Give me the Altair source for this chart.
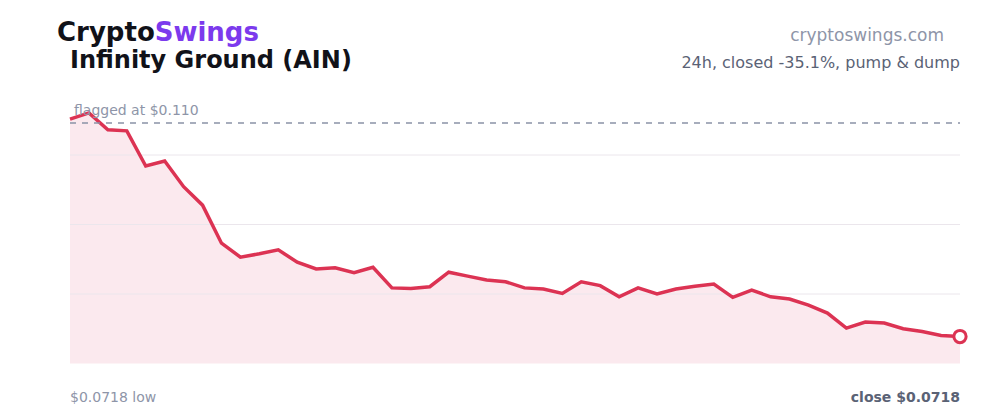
import altair as alt
import pandas as pd

# 48 half-hourly prices over 24h
steps = list(range(48))
prices = [
    0.1107, 0.1118, 0.1088, 0.1086, 0.1023, 0.1032, 0.0986, 0.0953,
    0.0885, 0.0860, 0.0866, 0.0873, 0.0851, 0.0839, 0.0841, 0.0832,
    0.0842, 0.0805, 0.0804, 0.0807, 0.0833, 0.0826, 0.0819, 0.0816,
    0.0805, 0.0803, 0.0795, 0.0816, 0.0809, 0.0789, 0.0805, 0.0794,
    0.0803, 0.0808, 0.0812, 0.0788, 0.0801, 0.0789, 0.0785, 0.0774,
    0.0760, 0.0733, 0.0744, 0.0742, 0.0732, 0.0727, 0.0720, 0.0718,
]
flag_price = [0.110]
y_domain = [0.06697, 0.11671]
grid_values = [0.07940, 0.09184, 0.10427]

title_a = "Crypto"
title_b = "Swings"
subtitle = "Infinity Ground (AIN)"
site = "cryptoswings.com"
summary = "24h, closed -35.1%, pump & dump"
flag_label = "flagged at $0.110"
low_label = "$0.0718 low"
close_label = "close $0.0718"

W, H = 890, 278
FONT = "DejaVu Sans"

df = pd.DataFrame({"step": steps, "price": prices})
last = df.tail(1)
flag_df = pd.DataFrame({"price": flag_price})
grid_df = pd.DataFrame({"price": grid_values})

x = alt.X("step:Q", scale=alt.Scale(domain=[0, 47], nice=False, zero=False), axis=None)
y_scale = alt.Scale(domain=y_domain, nice=False, zero=False)
y = alt.Y("price:Q", scale=y_scale, axis=None)

base = alt.Chart(df)

area = base.mark_area(color="#fbe9ee", opacity=1, clip=True).encode(x=x, y=y)
grid = alt.Chart(grid_df).mark_rule(color="#ebe6ec", strokeWidth=1).encode(
    y=y, x=alt.value(0), x2=alt.value(W))
line = base.mark_line(color="#dc3353", strokeWidth=3.5, strokeJoin="miter").encode(x=x, y=y)
dot = alt.Chart(last).mark_point(shape="circle", size=150, filled=True, fill="white",
                                  stroke="#dc3353", strokeWidth=3, opacity=1).encode(x=x, y=y)
flag = alt.Chart(flag_df).mark_rule(color="#8b93a7", strokeWidth=1.5, strokeDash=[6, 6]).encode(
    y=y, x=alt.value(0), x2=alt.value(W))


def txt(text, xp, yp, size, color, weight="normal", align="left"):
    return alt.Chart(pd.DataFrame({"t": [text]})).mark_text(
        align=align, baseline="alphabetic", font=FONT, fontSize=size,
        fontWeight=weight, color=color).encode(
        text="t:N", x=alt.value(xp), y=alt.value(yp))


ox, oy = 70, 85.5
texts = [
    txt(title_a, 57 - ox, 41 - oy, 26, "#111219", "bold"),
    txt(title_b, 154.7 - ox, 41 - oy, 26, "#7c3aed", "bold"),
    txt(subtitle, 70 - ox, 68 - oy, 24, "#111219", "bold"),
    txt(site, 944 - ox, 41 - oy, 17, "#8e95a8", align="right"),
    txt(summary, 960 - ox, 68 - oy, 16, "#5a6275", align="right"),
    txt(flag_label, 74 - ox, 115 - oy, 14, "#8e95a8"),
    txt(low_label, 70 - ox, 402 - oy, 14, "#8e95a8"),
    txt(close_label, 960 - ox, 402 - oy, 14, "#5a6275", "bold", align="right"),
]

chart = alt.layer(area, grid, line, flag, dot, *texts).properties(
    width=W, height=H,
    autosize=alt.AutoSizeParams(type="none"),
    padding={"left": ox, "top": oy, "right": 1000 - ox - W, "bottom": 420 - oy - H},
    background="white",
).configure_view(strokeWidth=0)

chart.save("out.html", embed_options={"renderer": "svg", "actions": False})
